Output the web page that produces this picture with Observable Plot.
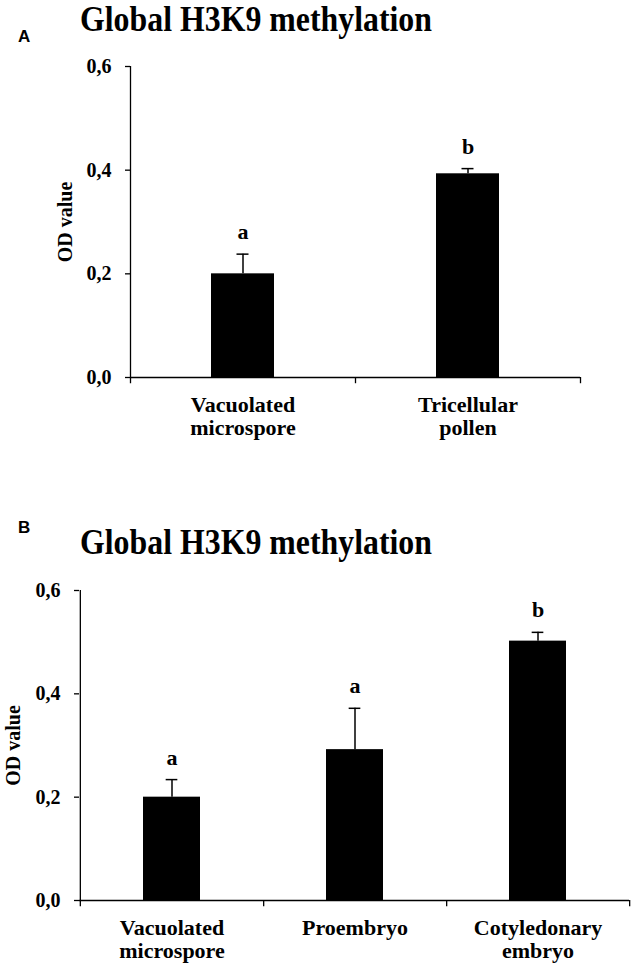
<!DOCTYPE html>
<html><head><meta charset="utf-8">
<script src="https://cdn.jsdelivr.net/npm/d3@7"></script>
<script src="https://cdn.jsdelivr.net/npm/@observablehq/plot@0.6"></script>
<style>
body{margin:0;background:#fff;}
#wrap{position:relative;width:636px;height:970px;overflow:hidden;background:#fff;}
.panel{position:absolute;left:0;}
.title{position:absolute;left:0;width:636px;height:44px;overflow:visible;}
.title text{font-weight:bold;font-size:35px;font-family:"Times New Roman","Liberation Serif",serif;fill:#000;}
.tag{position:absolute;left:18px;font-weight:bold;font-size:17px;font-family:Arial,"Liberation Sans",sans-serif;line-height:1;color:#000;}
</style></head>
<body><div id="wrap">
<div class="panel" id="pA" style="top:0px"></div>
<div class="panel" id="pB" style="top:480px"></div>
<svg class="title" id="tA" style="top:0px"><text x="80" y="31" textLength="352" lengthAdjust="spacingAndGlyphs"></text></svg>
<svg class="title" id="tB" style="top:523px"><text x="80" y="31" textLength="352" lengthAdjust="spacingAndGlyphs"></text></svg>
<div class="tag" id="gA" style="top:28px"></div>
<div class="tag" id="gB" style="top:519px"></div>
</div>
<script>
const titleText = "Global H3K9 methylation";
const panelTags = ["A", "B"];
const yLabel = "OD value";
const yTicks = [0, 0.2, 0.4, 0.6];

const catsA = ["Vacuolated\nmicrospore", "Tricellular\npollen"];
const meanA = [0.200, 0.393];
const errA = [0.038, 0.010];
const sigA = ["a", "b"];

const catsB = ["Vacuolated\nmicrospore", "Proembryo", "Cotyledonary\nembryo"];
const meanB = [0.200, 0.292, 0.502];
const errB = [0.034, 0.080, 0.017];
const sigB = ["a", "a", "b"];

const serif = '"Times New Roman","Liberation Serif",serif';

function panel(cats, mean, err, sig, L) {
  const data = cats.map((c, i) => ({cat: c, v: mean[i], e: err[i], s: sig[i]}));
  const bw = (L.width - L.ml - L.mr) / cats.length;
  return Plot.plot({
    width: L.width, height: L.height,
    marginTop: L.mt, marginBottom: L.mb, marginLeft: L.ml, marginRight: L.mr,
    style: {fontFamily: serif, fontWeight: "bold", color: "#000", background: "#fff", overflow: "visible"},
    x: {domain: cats, padding: 0, axis: null, label: null},
    y: {domain: [0, 0.6], axis: null, label: null},
    marks: [
      Plot.barY(data, {x: "cat", y: "v", fill: "#000", insetLeft: L.inset, insetRight: L.inset}),
      Plot.ruleX(data, {x: "cat", y1: "v", y2: d => d.v + d.e, stroke: "#000", strokeWidth: 1.5}),
      Plot.tickY(data, {x: "cat", y: d => d.v + d.e, stroke: "#000", strokeWidth: 1.5, inset: (bw - 12) / 2}),
      Plot.text(data, {x: "cat", y: d => d.v + d.e, text: "s", dy: -22, fontSize: 22, lineAnchor: "middle", fill: "#000"}),
      Plot.ruleY([0], {stroke: "#000", strokeWidth: 1.3}),
      Plot.ruleX([cats[0]], {x: d => d, dx: -bw / 2, y1: () => -0.012, y2: () => 0.6, stroke: "#000", strokeWidth: 1.3}),
      Plot.ruleX(cats, {x: d => d, dx: bw / 2, y1: () => 0, y2: () => -0.012, stroke: "#000", strokeWidth: 1.3}),
      Plot.axisY({ticks: yTicks, tickSize: 5, tickPadding: L.tp, tickFormat: d => d.toFixed(1).replace(".", ","),
        fontSize: 20, strokeWidth: 1.3, label: yLabel, labelAnchor: "center", labelOffset: L.lo, labelArrow: false}),
      Plot.axisX({tickSize: 0, tickPadding: 18, fontSize: 22, lineHeight: 1.05, label: null})
    ]
  });
}

document.getElementById("pA").append(panel(catsA, meanA, errA, sigA,
  {width: 636, height: 440, mt: 66, mb: 63, ml: 130, mr: 56, inset: 81, tp: 14, lo: 73}));
document.getElementById("pB").append(panel(catsB, meanB, errB, sigB,
  {width: 636, height: 490, mt: 110, mb: 70, ml: 79, mr: 7, inset: 63, tp: 14, lo: 74}));
document.querySelector("#tA text").textContent = titleText;
document.querySelector("#tB text").textContent = titleText;
document.getElementById("gA").textContent = panelTags[0];
document.getElementById("gB").textContent = panelTags[1];
</script>
</body></html>
